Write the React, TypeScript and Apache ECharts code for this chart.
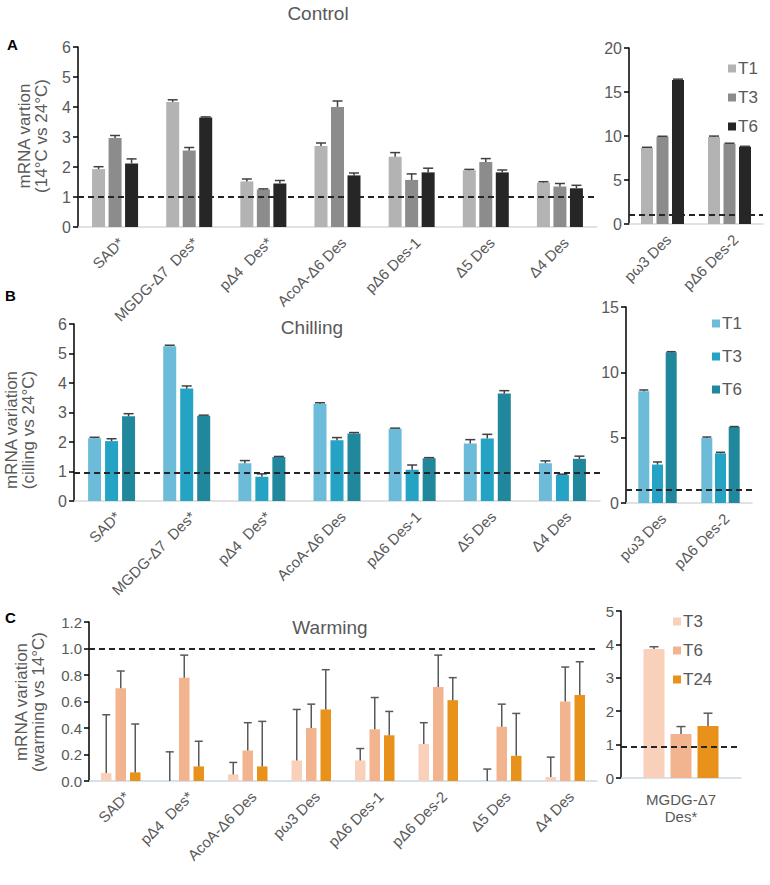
import React, { useEffect, useRef } from "react";
import * as echarts from "echarts";

const FONT = '"Liberation Sans", Arial, sans-serif';
const GRAY = "#595959";

// ---------- Panel A: Control ----------
const ctrlCats = ["SAD*", "MGDG-Δ7  Des*", "pΔ4  Des*", "AcoA-Δ6 Des", "pΔ6 Des-1", "Δ5 Des", "Δ4 Des"];
const ctrlT1 = [1.93, 4.17, 1.52, 2.7, 2.34, 1.89, 1.48];
const ctrlT1Err = [0.08, 0.07, 0.08, 0.1, 0.14, 0.03, 0.03];
const ctrlT3 = [2.97, 2.55, 1.25, 4.0, 1.57, 2.17, 1.35];
const ctrlT3Err = [0.08, 0.1, 0.02, 0.2, 0.2, 0.11, 0.1];
const ctrlT6 = [2.12, 3.65, 1.45, 1.72, 1.82, 1.82, 1.29];
const ctrlT6Err = [0.15, 0.02, 0.1, 0.08, 0.14, 0.08, 0.1];

const ctrlCats2 = ["pω3 Des", "pΔ6 Des-2"];
const ctrl2T1 = [8.67, 9.89];
const ctrl2T1Err = [0.05, 0.1];
const ctrl2T3 = [9.92, 9.13];
const ctrl2T3Err = [0.05, 0.05];
const ctrl2T6 = [16.36, 8.78];
const ctrl2T6Err = [0.1, 0.05];

// ---------- Panel B: Chilling ----------
const chillCats = ["SAD*", "MGDG-Δ7  Des*", "pΔ4  Des*", "AcoA-Δ6 Des", "pΔ6 Des-1", "Δ5 Des", "Δ4 Des"];
const chillT1 = [2.13, 5.25, 1.28, 3.3, 2.45, 1.95, 1.28];
const chillT1Err = [0.03, 0.03, 0.09, 0.03, 0.02, 0.13, 0.08];
const chillT3 = [2.03, 3.81, 0.82, 2.06, 1.06, 2.12, 0.88];
const chillT3Err = [0.08, 0.09, 0.1, 0.09, 0.16, 0.14, 0.03];
const chillT6 = [2.87, 2.89, 1.49, 2.29, 1.45, 3.64, 1.43];
const chillT6Err = [0.09, 0.02, 0.02, 0.03, 0.02, 0.1, 0.09];

const chillCats2 = ["pω3 Des", "pΔ6 Des-2"];
const chill2T1 = [8.55, 4.97];
const chill2T1Err = [0.1, 0.08];
const chill2T3 = [2.94, 3.8];
const chill2T3Err = [0.2, 0.08];
const chill2T6 = [11.53, 5.82];
const chill2T6Err = [0.05, 0.03];

// ---------- Panel C: Warming ----------
const warmCats = ["SAD*", "pΔ4  Des*", "AcoA-Δ6 Des", "pω3 Des", "pΔ6 Des-1", "pΔ6 Des-2", "Δ5 Des", "Δ4 Des"];
const warmT3 = [0.06, 0, 0.05, 0.155, 0.155, 0.28, 0, 0.03];
const warmT3Err = [0.44, 0.22, 0.09, 0.385, 0.09, 0.16, 0.09, 0.15];
const warmT6 = [0.7, 0.78, 0.23, 0.4, 0.39, 0.71, 0.41, 0.6];
const warmT6Err = [0.13, 0.17, 0.21, 0.18, 0.24, 0.24, 0.17, 0.26];
const warmT24 = [0.065, 0.11, 0.11, 0.54, 0.345, 0.61, 0.19, 0.65];
const warmT24Err = [0.365, 0.19, 0.34, 0.3, 0.18, 0.17, 0.32, 0.25];

const warmCats2 = ["MGDG-Δ7\nDes*"];
const warm2T3 = [3.86];
const warm2T3Err = [0.07];
const warm2T6 = [1.32];
const warm2T6Err = [0.22];
const warm2T24 = [1.56];
const warm2T24Err = [0.38];

const GREY_COLORS = ["#b3b3b3", "#8c8c8c", "#262626"];
const BLUE_COLORS = ["#6cbcd9", "#25a3c5", "#21879c"];
const ORANGE_COLORS = ["#f9d0b9", "#f2b48e", "#e8921c"];

type SDef = { name: string; data: number[]; err: number[]; color: string };
type PDef = {
  left: number; top: number; width: number; height: number;
  cats: string[]; yMax: number; yInt: number; ref: number;
  barWidth: number; gap: number; rotate: number; xFont: number; xMargin: number;
  yFont: number; yFmt?: (v: number) => string;
  cap: number; errColor: string; errWidth: number; axisColor: string;
  series: SDef[];
};

function buildOption() {
  const grids: any[] = [];
  const xAxes: any[] = [];
  const yAxes: any[] = [];
  const series: any[] = [];

  const addPanel = (p: PDef) => {
    const i = grids.length;
    grids.push({ left: p.left, top: p.top, width: p.width, height: p.height, containLabel: false });
    xAxes.push({
      type: "category", gridIndex: i, data: p.cats, boundaryGap: true,
      axisLine: { show: true, lineStyle: { color: p.axisColor, width: 1.5 } },
      axisTick: { show: false },
      axisLabel: {
        interval: 0, rotate: p.rotate, color: GRAY, fontSize: p.xFont, fontFamily: FONT,
        margin: p.xMargin, lineHeight: 17,
        verticalAlign: p.rotate ? "top" : undefined,
      },
    });
    yAxes.push({
      type: "value", gridIndex: i, min: 0, max: p.yMax, interval: p.yInt,
      axisLine: { show: true, lineStyle: { color: "#000", width: 1.5 } },
      axisTick: { show: true, length: 5, lineStyle: { color: "#000", width: 1.5 } },
      splitLine: { show: false },
      axisLabel: { color: GRAY, fontSize: p.yFont, fontFamily: FONT, margin: 7, formatter: p.yFmt },
    });
    const n = p.series.length;
    const step = p.barWidth + p.gap;
    p.series.forEach((s, k) => {
      series.push({
        type: "bar", name: s.name, xAxisIndex: i, yAxisIndex: i, data: s.data,
        barWidth: p.barWidth, barGap: (p.gap / p.barWidth) * 100 + "%",
        itemStyle: { color: s.color }, z: 2,
        markLine: k === 0 ? {
          silent: true, symbol: "none", label: { show: false }, z: 6,
          lineStyle: { type: [6, 4], color: "#262626", width: 2 },
          data: [{ yAxis: p.ref }],
        } : undefined,
      });
    });
    const errData: number[][] = [];
    p.series.forEach((s, k) => s.data.forEach((v, j) => errData.push([j, v, v + s.err[j], k - (n - 1) / 2])));
    series.push({
      type: "custom", xAxisIndex: i, yAxisIndex: i, data: errData, z: 5, silent: true,
      encode: { x: 0, y: 1 },
      renderItem: (params: any, api: any) => {
        const cat = api.value(0);
        const val = api.value(1);
        const top = api.value(2);
        const off = api.value(3);
        const p0 = api.coord([cat, val]);
        const p1 = api.coord([cat, top]);
        const x = p0[0] + off * step;
        const st = { stroke: p.errColor, lineWidth: p.errWidth };
        return {
          type: "group",
          children: [
            { type: "line", shape: { x1: x, y1: p0[1], x2: x, y2: p1[1] }, style: st },
            { type: "line", shape: { x1: x - p.cap / 2, y1: p1[1], x2: x + p.cap / 2, y2: p1[1] }, style: st },
          ],
        };
      },
    });
  };

  const s3 = (names: string[], datas: number[][], errs: number[][], colors: string[]): SDef[] =>
    names.map((nm, k) => ({ name: nm, data: datas[k], err: errs[k], color: colors[k] }));

  addPanel({
    left: 78, top: 47, width: 519, height: 180, cats: ctrlCats, yMax: 6, yInt: 1, ref: 1,
    barWidth: 13, gap: 3.5, rotate: 45, xFont: 15, xMargin: 7, yFont: 16,
    cap: 10, errColor: "#404040", errWidth: 1.5, axisColor: "#d9d9d9",
    series: s3(["T1", "T3", "T6"], [ctrlT1, ctrlT3, ctrlT6], [ctrlT1Err, ctrlT3Err, ctrlT6Err], GREY_COLORS),
  });
  addPanel({
    left: 629, top: 48, width: 134, height: 176, cats: ctrlCats2, yMax: 20, yInt: 5, ref: 1.1,
    barWidth: 12, gap: 3.5, rotate: 45, xFont: 15, xMargin: 7, yFont: 16,
    cap: 10, errColor: "#404040", errWidth: 1.5, axisColor: "#d9d9d9",
    series: s3(["T1", "T3", "T6"], [ctrl2T1, ctrl2T3, ctrl2T6], [ctrl2T1Err, ctrl2T3Err, ctrl2T6Err], GREY_COLORS),
  });
  addPanel({
    left: 74, top: 324, width: 526, height: 177, cats: chillCats, yMax: 6, yInt: 1, ref: 0.95,
    barWidth: 13, gap: 4, rotate: 45, xFont: 15, xMargin: 7, yFont: 16,
    cap: 10, errColor: "#404040", errWidth: 1.5, axisColor: "#d9d9d9",
    series: s3(["T1", "T3", "T6"], [chillT1, chillT3, chillT6], [chillT1Err, chillT3Err, chillT6Err], BLUE_COLORS),
  });
  addPanel({
    left: 626, top: 307, width: 126, height: 196, cats: chillCats2, yMax: 15, yInt: 5, ref: 1,
    barWidth: 11, gap: 2.7, rotate: 45, xFont: 15, xMargin: 7, yFont: 16,
    cap: 9, errColor: "#404040", errWidth: 1.5, axisColor: "#d9d9d9",
    series: s3(["T1", "T3", "T6"], [chill2T1, chill2T3, chill2T6], [chill2T1Err, chill2T3Err, chill2T6Err], BLUE_COLORS),
  });
  addPanel({
    left: 89, top: 622, width: 508, height: 159, cats: warmCats, yMax: 1.2, yInt: 0.2, ref: 1,
    barWidth: 10.5, gap: 4, rotate: 45, xFont: 15, xMargin: 7, yFont: 15,
    yFmt: (v: number) => v.toFixed(1),
    cap: 8, errColor: "#595959", errWidth: 1.5, axisColor: "#cdd9e3",
    series: s3(["T3", "T6", "T24"], [warmT3, warmT6, warmT24], [warmT3Err, warmT6Err, warmT24Err], ORANGE_COLORS),
  });
  addPanel({
    left: 621, top: 611, width: 120, height: 167, cats: warmCats2, yMax: 5, yInt: 1, ref: 0.95,
    barWidth: 21, gap: 6, rotate: 0, xFont: 15, xMargin: 13, yFont: 15,
    cap: 9, errColor: "#595959", errWidth: 1.5, axisColor: "#cdd9e3",
    series: s3(["T3", "T6", "T24"], [warm2T3, warm2T6, warm2T24], [warm2T3Err, warm2T6Err, warm2T24Err], ORANGE_COLORS),
  });

  const legend = (left: number, top: number, gap: number, names: string[], colors: string[]) => ({
    left, top, orient: "vertical", itemWidth: 8, itemHeight: 8, itemGap: gap, icon: "rect", padding: 0,
    selectedMode: false,
    textStyle: { color: GRAY, fontSize: 17, fontFamily: FONT, padding: [0, 0, 0, -3] },
    data: names.map((nm, k) => ({ name: nm, itemStyle: { color: colors[k] } })),
  });

  const txt = (x: number, y: number, text: string, size: number, extra: any = {}) => ({
    type: "text", x, y, silent: true, ...extra,
    style: { text, fontSize: size, fontFamily: FONT, fill: GRAY, align: "center", verticalAlign: "middle", lineHeight: 17, ...(extra.style || {}) },
  });

  const graphic = [
    { type: "text", x: 7, y: 44, silent: true, style: { text: "A", fontSize: 15, fontWeight: "bold", fontFamily: FONT, fill: "#000", verticalAlign: "middle" } },
    { type: "text", x: 5, y: 295, silent: true, style: { text: "B", fontSize: 15, fontWeight: "bold", fontFamily: FONT, fill: "#000", verticalAlign: "middle" } },
    { type: "text", x: 5, y: 617, silent: true, style: { text: "C", fontSize: 15, fontWeight: "bold", fontFamily: FONT, fill: "#000", verticalAlign: "middle" } },
    txt(318, 13, "Control", 19),
    txt(312, 327, "Chilling", 19),
    txt(330, 627, "Warming", 19),
    { ...txt(33, 136, "mRNA vartion\n(14°C vs 24°C)", 17), rotation: Math.PI / 2 },
    { ...txt(20, 430, "mRNA variation\n(cilling vs 24°C)", 17), rotation: Math.PI / 2 },
    { ...txt(30, 702, "mRNA variation\n(warming vs 14°C)", 17), rotation: Math.PI / 2 },
  ];

  return {
    animation: false,
    backgroundColor: "#ffffff",
    grid: grids,
    xAxis: xAxes,
    yAxis: yAxes,
    series,
    legend: [
      legend(728, 60, 12, ["T1", "T3", "T6"], GREY_COLORS),
      legend(712, 315, 16, ["T1", "T3", "T6"], BLUE_COLORS),
      legend(673, 613, 12, ["T3", "T6", "T24"], ORANGE_COLORS),
    ],
    graphic,
  };
}

export default function App() {
  const ref = useRef<HTMLDivElement>(null);
  useEffect(() => {
    if (!ref.current) return;
    const chart = echarts.init(ref.current, undefined, { renderer: "svg" });
    chart.setOption(buildOption() as any);
    return () => chart.dispose();
  }, []);
  return <div ref={ref} style={{ position: "absolute", left: 0, top: 0, width: 770, height: 885, background: "#fff" }} />;
}
